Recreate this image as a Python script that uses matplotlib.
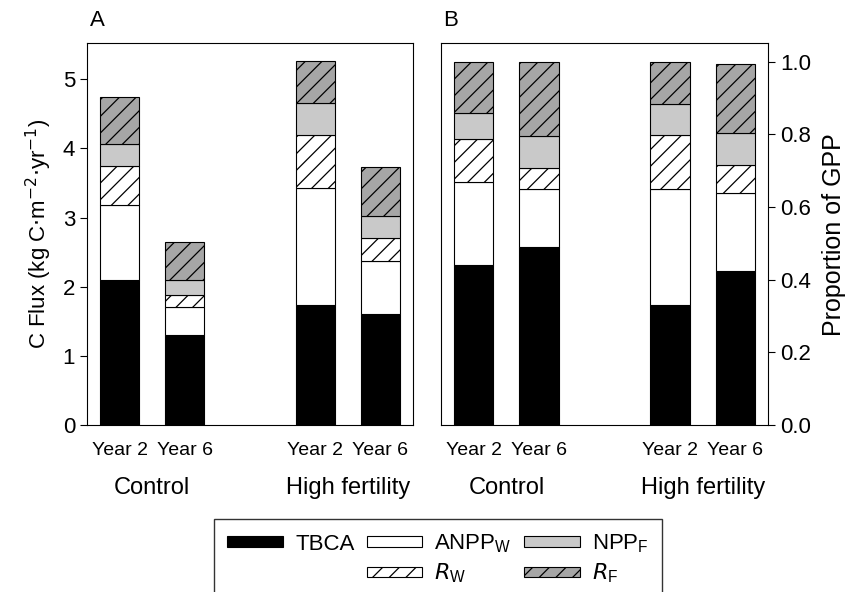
import matplotlib
matplotlib.use('Agg')
import matplotlib.pyplot as plt
from matplotlib.patches import Patch
import numpy as np

plt.rcParams['font.family'] = ['Liberation Sans', 'DejaVu Sans']
plt.rcParams['hatch.linewidth'] = 0.9

# ---- data
years = ['Year 2', 'Year 6', 'Year 2', 'Year 6']
groups = ['Control', 'High fertility']
xpos = [0, 1, 3, 4]

# panel A, kg C m-2 yr-1 (component heights, stacked bottom -> top)
tbca_a = [2.10, 1.30, 1.73, 1.60]
anppw_a = [1.08, 0.41, 1.70, 0.77]
rw_a = [0.57, 0.17, 0.77, 0.34]
nppf_a = [0.32, 0.22, 0.46, 0.31]
rf_a = [0.67, 0.54, 0.61, 0.71]

# panel B, proportion of GPP
tbca_b = [0.44, 0.49, 0.33, 0.425]
anppw_b = [0.23, 0.16, 0.32, 0.215]
rw_b = [0.116, 0.058, 0.148, 0.076]
nppf_b = [0.074, 0.087, 0.086, 0.089]
rf_b = [0.14, 0.205, 0.116, 0.19]

styles = [
    dict(color='black', hatch=None, label='TBCA'),
    dict(color='white', hatch=None, label='ANPP$_\\mathregular{W}$'),
    dict(color='white', hatch='//', label='$R_\\mathregular{W}$'),
    dict(color='#c9c9c9', hatch=None, label='NPP$_\\mathregular{F}$'),
    dict(color='#a6a6a6', hatch='//', label='$R_\\mathregular{F}$'),
]


def stack(ax, parts):
    bottom = np.zeros(len(xpos))
    for vals, st in zip(parts, styles):
        ax.bar(xpos, vals, 0.6, bottom=bottom, color=st['color'],
               hatch=st['hatch'], edgecolor='black', linewidth=0.8)
        bottom += np.array(vals)
    ax.set_xlim(-0.5, 4.5)
    ax.set_xticks(xpos)
    ax.set_xticklabels(years, fontsize=14)
    ax.tick_params(axis='x', length=0, pad=12)
    ax.tick_params(axis='y', labelsize=16, length=5, direction='out')
    for i, g in enumerate(groups):
        ax.text([0.5, 3.5][i], -0.165, g, transform=ax.get_xaxis_transform(),
                ha='center', va='center', fontsize=17)


fig = plt.figure(figsize=(8.55, 5.92), dpi=100)
ax1 = fig.add_axes([0.1018, 0.282, 0.381, 0.645])
ax2 = fig.add_axes([0.5158, 0.282, 0.3825, 0.645])

stack(ax1, [tbca_a, anppw_a, rw_a, nppf_a, rf_a])
ax1.set_ylim(0, 5.52)
ax1.set_yticks([0, 1, 2, 3, 4, 5])
ax1.set_ylabel('C Flux (kg C$\\cdot$m$^{-2}$$\\cdot$yr$^{-1}$)', fontsize=16, labelpad=6)

stack(ax2, [tbca_b, anppw_b, rw_b, nppf_b, rf_b])
ax2.set_ylim(0, 1.051)
ax2.set_yticks(np.arange(0, 1.01, 0.2))
ax2.yaxis.set_major_formatter(matplotlib.ticker.FormatStrFormatter('%.1f'))
ax2.yaxis.tick_right()
ax2.yaxis.set_label_position('right')
ax2.set_ylabel('Proportion of GPP', fontsize=18, labelpad=8)

fig.text(0.105, 0.965, 'A', fontsize=16, ha='left', va='center')
fig.text(0.518, 0.965, 'B', fontsize=16, ha='left', va='center')

# legend
h = [Patch(facecolor=s['color'], hatch=s['hatch'], edgecolor='black', linewidth=0.8)
     for s in styles]
blank = Patch(facecolor='none', edgecolor='none')
handles = [h[0], blank, h[1], h[2], h[3], h[4]]
labels = [styles[0]['label'], '', styles[1]['label'], styles[2]['label'],
          styles[3]['label'], styles[4]['label']]
leg = fig.legend(handles, labels, ncol=3, loc='upper left',
                 bbox_to_anchor=(0.2503, 0.123), borderaxespad=0, fontsize=16,
                 frameon=True, fancybox=False, edgecolor='black',
                 handlelength=2.5, handleheight=0.35, handletextpad=0.55,
                 columnspacing=0.55, labelspacing=0.3, borderpad=0.6)
leg.get_frame().set_linewidth(1.0)

fig.savefig('out.png', dpi=100)
